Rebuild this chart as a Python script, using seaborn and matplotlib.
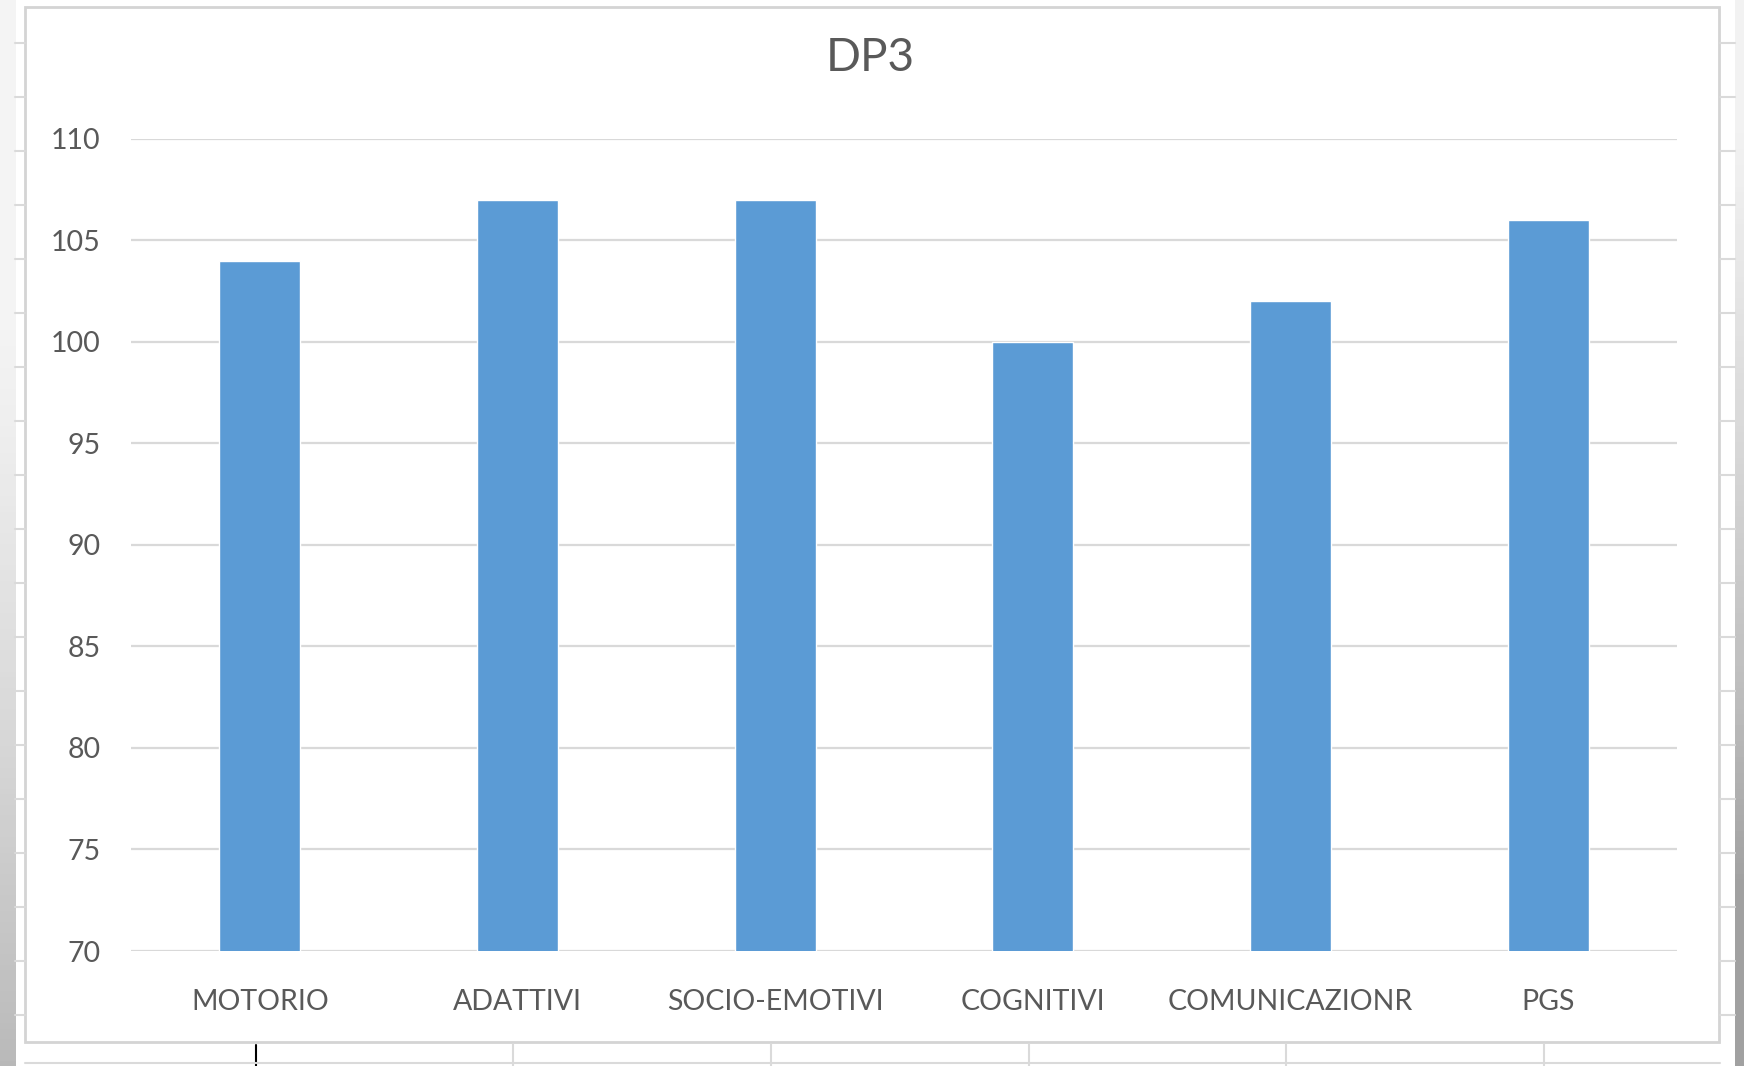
import matplotlib
matplotlib.use("Agg")
import matplotlib.pyplot as plt
import seaborn as sns
import pandas as pd
import numpy as np

# Scores per area
categories = ["MOTORIO", "ADATTIVI", "SOCIO-EMOTIVI", "COGNITIVI", "COMUNICAZIONR", "PGS"]
scores = [104, 107, 107, 100, 102, 106]
y_ticks = [70, 75, 80, 85, 90, 95, 100, 105, 110]
title = "DP3"

BAR = "#5B9BD5"
GRID = "#D9D9D9"
TEXT = "#595959"

sns.set_theme(style="white")
plt.rcParams["font.family"] = ["Lato", "DejaVu Sans"]

W, H = 1744, 1066
fig = plt.figure(figsize=(W / 100, H / 100), dpi=100)
fig.patch.set_facecolor("white")

# Worksheet backdrop: cell lines around the chart object, window edges
bg = fig.add_axes([0, 0, 1, 1], zorder=0)
bg.set_xlim(0, W)
bg.set_ylim(H, 0)
bg.axis("off")
grad = np.linspace(0, 1, 200).reshape(-1, 1)
bg.imshow(np.clip((grad - 0.3) * 1.4, 0, 1), cmap="Greys", vmin=-0.3, vmax=3,
          extent=[0, 15, H, 0], aspect="auto")
bg.imshow(np.clip((grad - 0.12) * 1.4, 0, 1), cmap="Greys", vmin=-0.3, vmax=2.5,
          extent=[1735, W, H, 0], aspect="auto")
for y in np.arange(43, 1040, 54):
    bg.plot([15, 25], [y, y], color="#DADADA", lw=1.5)
    bg.plot([1720, 1735], [y, y], color="#DADADA", lw=1.5)
for x in [513, 771, 1029, 1286, 1544]:
    bg.plot([x, x], [1044, H], color="#DADADA", lw=1.5)
bg.plot([256, 256], [1045, H], color="black", lw=1.5)
bg.plot([25, 1720], [1063, 1063], color="#DADADA", lw=1.5)
bg.add_patch(plt.Rectangle((25, 7), 1694, 1035, fill=True, facecolor="white",
                           edgecolor="#D4D4D4", lw=2))

ax = fig.add_axes([131 / W, 1 - 951 / H, (1677 - 131) / W, (951 - 139) / H], zorder=1)
ax.patch.set_alpha(0)

df = pd.DataFrame({"area": categories, "score": scores})
sns.barplot(data=df, x="area", y="score", color=BAR, saturation=1,
            width=0.315, ax=ax, zorder=3)

ax.set_ylim(70, 110)
ax.set_xlim(-0.5, len(categories) - 0.5)
ax.set_yticks(y_ticks)
ax.yaxis.grid(True, color=GRID, lw=1.6, zorder=0)
ax.xaxis.grid(False)
for s in ax.spines.values():
    s.set_visible(False)
ax.set_xlabel("")
ax.set_ylabel("")
ax.tick_params(axis="y", length=0, pad=22, labelsize=20.5, labelcolor=TEXT)
ax.tick_params(axis="x", length=0, pad=27, labelsize=20.5, labelcolor=TEXT)

fig.text(870 / W, 1 - 58 / H, title, ha="center", va="center",
         fontsize=33, color=TEXT)

fig.savefig("out.png", dpi=100)
